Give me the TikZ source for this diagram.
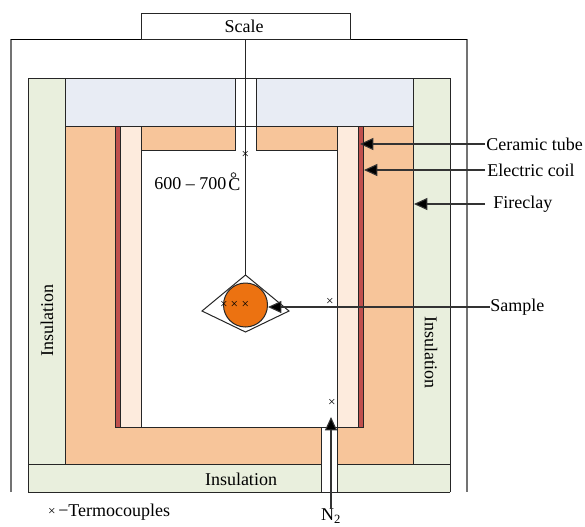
\documentclass[tikz,border=0pt]{standalone}
\usepackage{fontspec}
\setmainfont{Liberation Serif}
\usetikzlibrary{arrows.meta}
\definecolor{ins}{HTML}{E9EFDD}
\definecolor{clay}{HTML}{F7C59A}
\definecolor{lid}{HTML}{E8ECF4}
\definecolor{cer}{HTML}{FDEBDD}
\definecolor{coil}{HTML}{C0504D}
\definecolor{samp}{HTML}{EC7211}
\tikzset{
  x=0.75pt,y=-0.75pt,
  part/.style={draw=black!85,line width=0.75pt},
  lbl/.style={font=\fontsize{13.5pt}{15pt}\selectfont,inner sep=0pt},
  pointer/.style={draw=black!80,line width=0.8pt,-{Triangle[length=10pt,width=9pt,fill=black]}},
  tc/.style={font=\fontsize{10pt}{10pt}\selectfont,inner sep=0pt}
}
\begin{document}
\begin{tikzpicture}
\useasboundingbox (0,0) rectangle (585,526);
% outer frame
\draw[black!55,line width=0.8pt] (11,492) -- (11,39);
\draw[black!55,line width=0.8pt] (467,39) -- (467,492);
\draw[black,line width=0.75pt] (11,39) -- (467,39);
\node[part,fill=white,minimum width=156.75pt,minimum height=19.5pt,inner sep=0pt] (scalebox) at (245.5,26) {};
\node[lbl] (scale) at (244,26) {Scale};
% insulation
\fill[ins] (28,78) rectangle (450,492);
% clay
\fill[clay] (65,126) rectangle (413,464);
% lid
\draw[part,fill=lid] (65,78) rectangle (235,126);
\draw[part,fill=lid] (256,78) rectangle (413,126);
\fill[white] (235,78) rectangle (256,126);
\draw[part] (28,78) -- (28,492);
\draw[part] (450,492) -- (450,78) -- (28,78);
\draw[part] (65,126) -- (65,464);
\draw[part] (413,126) -- (413,464);
\draw[part] (28,464) -- (450,464);
\draw[part] (65,126) -- (413,126);
% chamber
\draw[part,fill=coil] (115,126) rectangle (120,427);
\draw[part,fill=coil] (358,126) rectangle (363,427);
\draw[part,fill=cer] (120,126) rectangle (141,427);
\draw[part,fill=cer] (337,126) rectangle (358,427);
\fill[white] (141,150) rectangle (337,427);
\fill[white] (235,126) rectangle (256,150);
\draw[part] (141,150) -- (235,150) -- (235,78);
\draw[part] (337,150) -- (256,150) -- (256,78);
\draw[part] (141,150) -- (141,427);
\draw[part] (337,150) -- (337,427);
\draw[part] (115,427) -- (321,427);
\draw[part] (337,427) -- (363,427);
\draw[part] (235,126) -- (256,126);
% gas inlet
\fill[white] (321,427) rectangle (337,492);
\draw[part] (321,492) -- (321,427) -- (337,427) -- (337,492);
\draw[part] (28,492) -- (450,492);
% sample
\coordinate (hook) at (245.5,275);
\draw[part,fill=white] (hook) -- (289,311) -- (245.5,332) -- (202,311) -- cycle;
\draw[part] (245.5,39) -- (hook);
\node[part,circle,fill=samp,minimum size=33pt,inner sep=0pt] (sample) at (245.5,305) {};
% thermocouples
\foreach \n/\px/\py in {a/224/305,b/234.5/305,c/245.5/305,d/245.5/155,e/330/302,f/332/403}
  \node[tc] (tc\n) at (\px,\py) {×};
% labels
\node[lbl,anchor=west] (cer) at (486,144) {Ceramic tube};
\node[lbl,anchor=west] (elc) at (487,170) {Electric coil};
\node[lbl,anchor=west] (fir) at (493,204) {Fireclay};
\node[lbl,anchor=west] (sam) at (490,307) {Sample};
\coordinate (cerend) at (360,144);
\coordinate (elcend) at (364,170);
\coordinate (firend) at (414,204);
\coordinate (samend) at (268,307);
\coordinate (cerstart) at (485,144);
\coordinate (elcstart) at (485,170);
\coordinate (firstart) at (485,204);
\draw[pointer] (cerstart) -- (cerend);
\draw[pointer] (elcstart) -- (elcend);
\draw[pointer] (firstart) -- (firend);
\draw[pointer] (sam.west) -- (samend);
\node[lbl,rotate=90] (insl) at (47,320) {Insulation};
\node[lbl,rotate=-90] (insr) at (431,352) {Insulation};
\node[lbl] (insb) at (241,479) {Insulation};
\node[lbl,anchor=west] (temp) at (154,184) {600 – 700};
\node[lbl,anchor=west] (degc) at (228,185) {C};
\node[draw=black!85,circle,line width=0.6pt,minimum size=3.5pt,inner sep=0pt] (deg) at (233.5,175) {};
\node[lbl,anchor=west] (leg) at (58,512) {−Termocouples};
\node[tc] (legx) at (52,512) {×};
\node[lbl,anchor=south] (ntwo) at (331,524) {N\textsubscript{2}};
\coordinate (nend) at (331,417);
\draw[pointer] (ntwo.north) -- (nend);
\end{tikzpicture}
\end{document}
